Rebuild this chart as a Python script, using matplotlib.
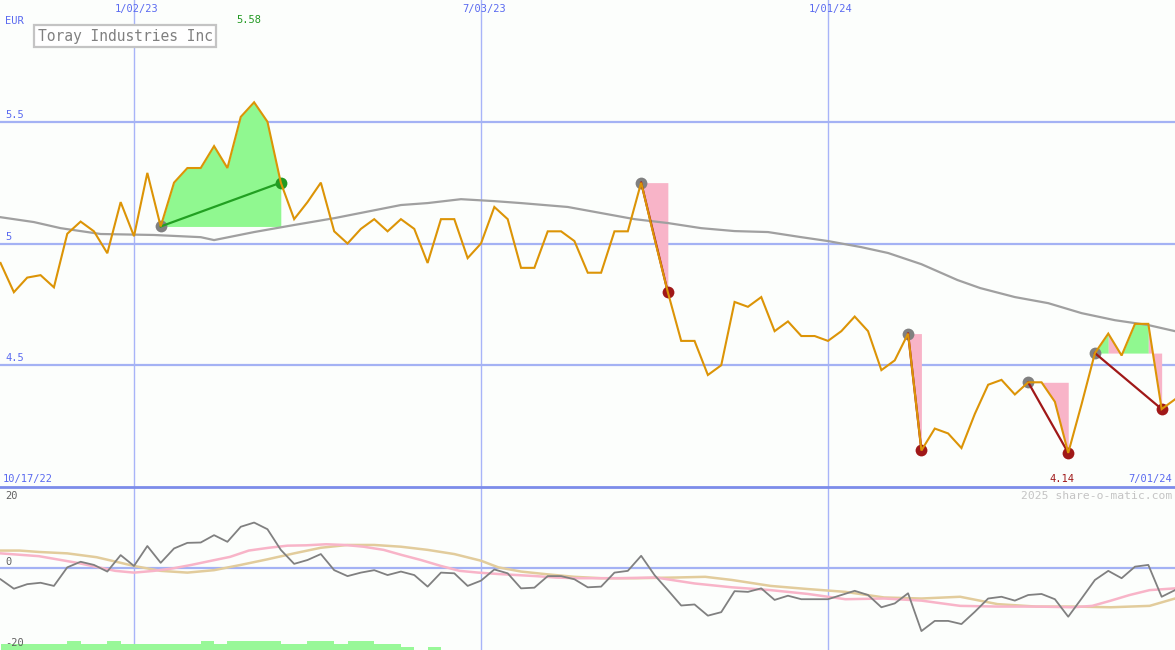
import numpy as np
import pandas as pd
import matplotlib
matplotlib.use("Agg")
import matplotlib.pyplot as plt
from matplotlib.lines import Line2D
from matplotlib.patches import Rectangle

# ---------------- data ----------------
title = "Toray Industries Inc"
currency = "EUR"
start_date = "2022-10-24"          # first weekly point
range_labels = ["10/17/22", "7/01/24"]

# weekly closing price (EUR), 89 weeks
price = [4.92, 4.80, 4.86, 4.87, 4.82, 5.04, 5.09, 5.05, 4.96, 5.17,
         5.03, 5.29, 5.07, 5.25, 5.31, 5.31, 5.40, 5.31, 5.52, 5.58,
         5.50, 5.25, 5.10, 5.17, 5.25, 5.05, 5.00, 5.06, 5.10, 5.05,
         5.10, 5.06, 4.92, 5.10, 5.10, 4.94, 5.00, 5.15, 5.10, 4.90,
         4.90, 5.05, 5.05, 5.01, 4.88, 4.88, 5.05, 5.05, 5.25, 5.02,
         4.80, 4.60, 4.60, 4.46, 4.50, 4.76, 4.74, 4.78, 4.64, 4.68,
         4.62, 4.62, 4.60, 4.64, 4.70, 4.64, 4.48, 4.52, 4.63, 4.15,
         4.24, 4.22, 4.16, 4.30, 4.42, 4.44, 4.38, 4.43, 4.43, 4.35,
         4.14, 4.34, 4.55, 4.63, 4.54, 4.67, 4.67, 4.32, 4.36]

# long moving average (week position, value)
ma_weeks = [0, 2.5, 4.5, 7.5, 11.5, 15, 16, 19, 22, 25, 30, 32, 34.5, 37, 39,
            42.5, 45, 47.5, 50, 52.5, 55, 57.5, 60, 62, 64.5, 66.5, 69, 71.7,
            73.4, 76, 78.5, 81, 83.5, 86, 88]
ma_vals = [5.108, 5.088, 5.063, 5.039, 5.035, 5.026, 5.014, 5.047, 5.076, 5.104,
           5.158, 5.166, 5.182, 5.174, 5.166, 5.150, 5.125, 5.100, 5.084, 5.063,
           5.051, 5.047, 5.026, 5.010, 4.985, 4.961, 4.915, 4.850, 4.817, 4.780,
           4.755, 4.714, 4.685, 4.665, 4.640]

# trades: (start week, end week, result)
trade_start = [12, 48, 68, 77, 82]
trade_end = [21, 50, 69, 80, 87]
trade_win = [True, False, False, False, False]
# shaded spans: (from week, to week, trade number, gain?)
fill_from = [12, 48, 68, 77, 82, 83, 84, 86]
fill_to = [21, 50, 69, 80, 83, 84, 86, 87]
fill_trade = [0, 1, 2, 3, 4, 4, 4, 4]
fill_gain = [True, False, False, False, True, False, True, False]

max_label = "5.58"
min_label = "4.14"

# lower panel: momentum (weekly), two signal averages (week, value)
momentum = [-3.3, -6.0, -4.7, -4.3, -5.2, 0.1, 1.7, 0.8, -1.1, 3.6,
            0.5, 6.2, 1.4, 5.5, 7.1, 7.2, 9.3, 7.4, 11.7, 12.9,
            11.0, 5.1, 1.1, 2.2, 3.9, -0.7, -2.4, -1.4, -0.7, -2.1,
            -1.1, -2.1, -5.4, -1.4, -1.6, -5.2, -3.7, -0.5, -1.6, -5.9,
            -5.7, -2.4, -2.4, -3.3, -5.6, -5.4, -1.4, -0.9, 3.4, -2.1,
            -6.4, -10.8, -10.5, -13.7, -12.7, -6.7, -6.9, -5.9, -9.2, -8.0,
            -9.0, -9.0, -9.0, -7.8, -6.6, -7.8, -11.3, -10.2, -7.3, -18.1,
            -15.2, -15.2, -16.1, -12.6, -8.8, -8.3, -9.4, -7.8, -7.5, -9.0,
            -14.0, -8.8, -3.5, -0.9, -3.0, 0.3, 0.8, -8.3, -6.4]
pink_weeks = [0, 2.87, 5.73, 8.6, 10, 11.5, 12.9, 14.3, 15.8, 17.2, 18.6, 20.1,
              21.5, 22.9, 24.4, 25.8, 27.2, 28.7, 30.1, 31.5, 33, 34.4, 35.8,
              37.3, 38.7, 40.1, 41.6, 43, 46.3, 49.1, 52, 54.8, 57.7, 60.5,
              63.3, 66.2, 69, 71.9, 74.7, 77.6, 80.4, 81.8, 83.2, 84.6, 86.1, 88]
pink_vals = [4.1, 3.3, 1.4, -0.9, -1.4, -0.9, -0.2, 0.8, 2.0, 3.1, 4.9, 5.7,
             6.3, 6.4, 6.7, 6.5, 6.0, 5.1, 3.6, 2.2, 0.5, -0.9, -1.4,
             -1.8, -2.1, -2.4, -2.8, -3.0, -3.0, -2.8, -4.5, -5.6, -6.4, -7.5,
             -9.0, -8.8, -9.4, -10.9, -11.1, -11.1, -11.3, -10.9, -9.4, -7.8, -6.4, -5.9]
tan_weeks = [0, 1.43, 2.87, 5, 7.2, 9, 10, 12, 14, 16, 18, 20, 22, 24, 26, 28,
             30, 32, 34, 36, 37.3, 39, 41, 43, 45, 47.7, 50.6, 52.8, 54.8, 57.7,
             60.5, 63.3, 66.2, 69, 71.9, 74.7, 77.6, 80.4, 83.2, 86.1, 88]
tan_vals = [4.9, 4.9, 4.5, 4.1, 3.0, 1.4, 0.5, -0.9, -1.4, -0.7, 0.8, 2.4, 4.1,
            5.7, 6.5, 6.5, 6.0, 5.1, 3.9, 2.0, 0.1, -1.1, -1.9, -2.6, -3.0,
            -3.0, -2.8, -2.6, -3.5, -5.2, -6.1, -6.9, -8.5, -8.8, -8.3, -10.4,
            -11.1, -11.1, -11.3, -10.9, -8.8]
# weekly green bars at the foot of the lower panel (weeks 0..32)
bar_vals = [-21.8, -21.8, -21.8, -21.8, -21.8, -20.9, -21.8, -21.8, -20.9, -21.8,
            -21.8, -21.8, -21.8, -21.8, -21.8, -20.9, -21.8, -20.9, -20.9, -20.9,
            -20.9, -21.8, -21.8, -20.9, -20.9, -21.8, -20.9, -20.9, -21.8, -21.8,
            -22.7, np.nan, -22.7]

grid_dates = ["2023-01-02", "2023-07-03", "2024-01-01"]
grid_date_labels = ["1/02/23", "7/03/23", "1/01/24"]
price_grid = [5.5, 5.0, 4.5]
price_grid_labels = ["5.5", "5", "4.5"]
osc_grid_labels = ["20", "0", "-20"]
osc_grid_vals = [20, 0, -20]

# ---------------- style ----------------
W, H = 1175, 650
BG = "#fcfefc"
GRID = "#a4b2f4"
VGRID = "#a8b4f8"
BLUE = "#5a6af0"
MONO = ["DejaVu Sans Mono"]
plt.rcParams["font.family"] = MONO

weeks = np.arange(len(price))
price = np.array(price)
t0 = pd.Timestamp(start_date)
grid_weeks = [(pd.Timestamp(d) - t0).days / 7.0 for d in grid_dates]

fig = plt.figure(figsize=(W / 100, H / 100), dpi=100, facecolor=BG)
split = 163 / H
ax1 = fig.add_axes([0, split, 1, 1 - split], facecolor=BG)
ax2 = fig.add_axes([0, 0, 1, split], facecolor=BG)
xmax = 88.0
for ax in (ax1, ax2):
    ax.set_xlim(-0.04, xmax)
    ax.axis("off")
    for gw in grid_weeks:
        ax.axvline(gw, color=VGRID, lw=1.0, zorder=1)
ax1.set_ylim(4.0, 6.0)
ax2.set_ylim(-23.51, 23.06)

for v in price_grid:
    ax1.axhline(v, color=GRID, lw=1.6, zorder=1)
ax2.axhline(0, color=GRID, lw=1.6, zorder=1)

# shaded trade regions
for a, b, t, g in zip(fill_from, fill_to, fill_trade, fill_gain):
    base = price[trade_start[t]]
    xs = weeks[a:b + 1]
    ax1.fill_between(xs, price[a:b + 1], base, color="#90f890" if g else "#f8b4c8",
                     lw=0, zorder=2)

ax1.plot(ma_weeks, ma_vals, color="#a0a0a0", lw=1.6, zorder=3)

for s, e, win in zip(trade_start, trade_end, trade_win):
    ax1.plot([s], [price[s]], "o", ms=8.5, color="#808080", mec="none", zorder=4)
    ax1.plot([e], [price[e]], "o", ms=8.5, color="#229922" if win else "#a01818",
             mec="none", zorder=4)
    ax1.plot([s, e], [price[s], price[e]], color="#22a022" if win else "#a01818",
             lw=1.6, zorder=5)

ax1.plot(weeks, price, color="#dc9406", lw=1.5, zorder=6, solid_joinstyle="miter")

# lower panel
bw = np.arange(len(bar_vals))
bv = np.array(bar_vals)
ax2.bar(bw, bv - (-23.51), bottom=-23.51, width=1.0, align="edge",
        color="#98f898", lw=0, zorder=2)
ax2.plot(tan_weeks, tan_vals, color="#e2cc9c", lw=1.8, zorder=3)
ax2.plot(pink_weeks, pink_vals, color="#f8b4c8", lw=1.8, zorder=3)
ax2.plot(weeks, momentum, color="#808080", lw=1.3, zorder=4)

# divider
fig.add_artist(Line2D([0, 1], [split, split], color="#7c8cea", lw=2.0,
                      transform=fig.transFigure))

def P(x, y):
    return x / W, 1 - y / H

# texts
fig.text(*P(5, 21), currency, color=BLUE, fontsize=7.5, va="center", ha="left")
for v, lab in zip(price_grid, price_grid_labels):
    ax1.annotate(lab, (0, v), xytext=(5, 2), textcoords="offset pixels",
                 color=BLUE, fontsize=7.5, va="bottom", ha="left")
for gw, lab in zip(grid_weeks, grid_date_labels):
    ax1.annotate(lab, (gw, 6.0), xytext=(3, -9), textcoords="offset pixels",
                 color=BLUE, fontsize=7.5, va="center", ha="center")

fig.text(*P(125, 36), title, color="#808080", fontsize=10.5, va="center", ha="center",
         bbox=dict(boxstyle="square,pad=0.25", fc="white", ec="#c4c4c4", lw=1.6))

imax = int(np.argmax(price))
ax1.annotate(max_label, (imax, 6.0), xytext=(-5, -20), textcoords="offset pixels",
             color="#229922", fontsize=7.5, va="center", ha="center")
imin = int(np.argmin(price))
ax1.annotate(min_label, (imin, 4.0), xytext=(-6, 8), textcoords="offset pixels",
             color="#a01818", fontsize=7.5, va="center", ha="center")

fig.text(*P(3, 479), range_labels[0], color=BLUE, fontsize=7.5, va="center", ha="left")
fig.text(*P(1172, 479), range_labels[1], color=BLUE, fontsize=7.5, va="center", ha="right")
fig.text(*P(1172, 496), "2025 share-o-matic.com", color="#c4c4c4", fontsize=8.2,
         va="center", ha="right")

osc_label_y = [496, 562, 643]
for lab, yy in zip(osc_grid_labels, osc_label_y):
    fig.text(*P(5, yy), lab, color="#606060", fontsize=7.5, va="center", ha="left")

fig.savefig("out.png", dpi=100, facecolor=BG)
